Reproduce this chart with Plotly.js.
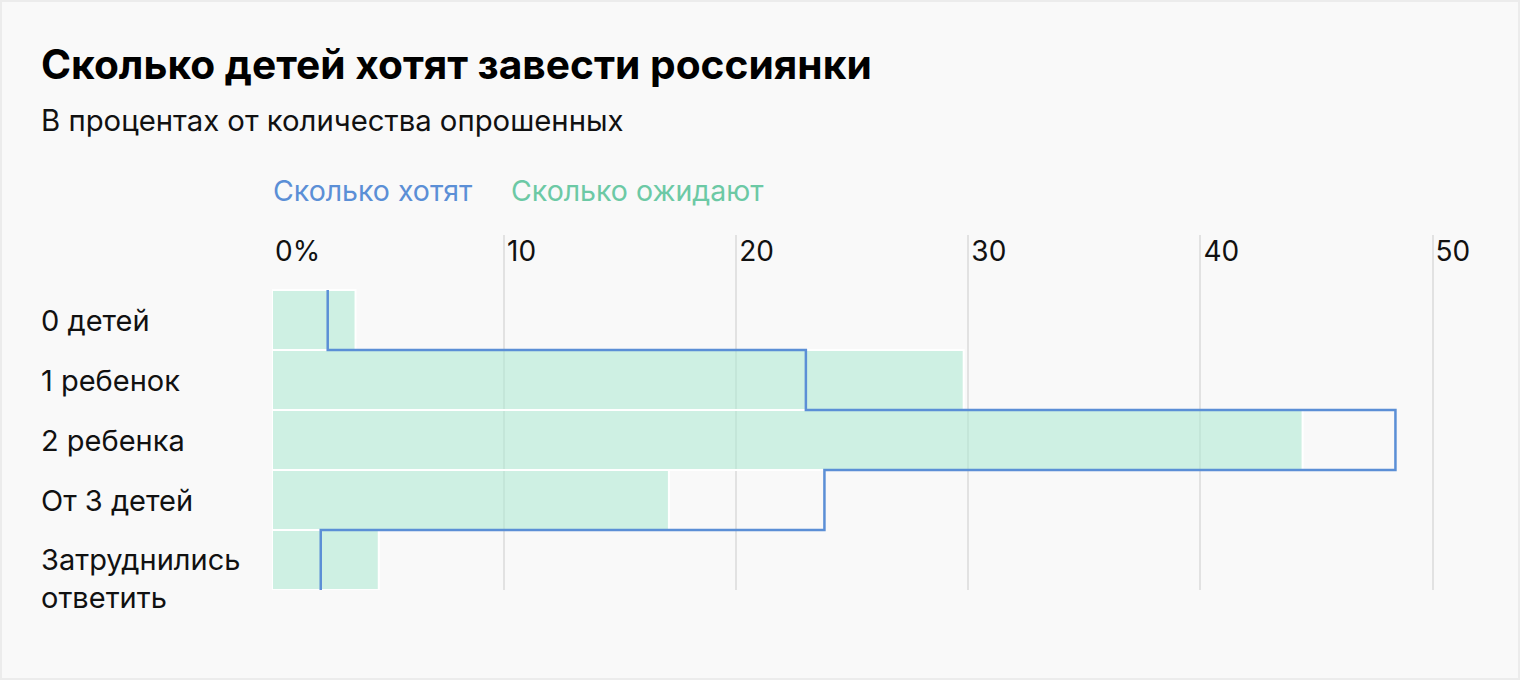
<!DOCTYPE html>
<html>
<head>
<meta charset="utf-8">
<script src="https://cdn.plot.ly/plotly-3.0.1.min.js"></script>
<style>
html,body{margin:0;padding:0;background:#f9f9f9;}
#wrap{width:1520px;height:680px;box-sizing:border-box;border:2px solid #ececec;background:#f9f9f9;}
#chart{width:1516px;height:676px;}
</style>
</head>
<body>
<div id="wrap"><div id="chart"></div></div>
<script>
const titleText = "Сколько детей хотят завести россиянки";
const subtitleText = "В процентах от количества опрошенных";
const categories = ["0 детей", "1 ребенок", "2 ребенка", "От 3 детей", "Затруднились<br>ответить"];
const wantName = "Сколько хотят";
const expectName = "Сколько ожидают";
const wantValues = [2.4, 23.0, 48.4, 23.8, 2.1];
const expectValues = [3.6, 29.8, 44.4, 17.1, 4.6];
const tickVals = [0, 10, 20, 30, 40, 50];
const tickText = ["0%", "10", "20", "30", "40", "50"];

const BLUE = "#5b8fd6";
const GREEN = "#6cc9a5";
const FONT = "Inter, 'Noto Sans', sans-serif";
const TXT = 29;

const idx = categories.map((c, i) => i);

// step line: vertical segment per category spanning its band
const stepX = [], stepY = [];
wantValues.forEach((v, i) => { stepX.push(v, v); stepY.push(i - 0.5, i + 0.5); });

const traces = [
  {
    type: "bar", orientation: "h", name: expectName,
    y: idx, x: expectValues, width: 1,
    marker: {color: "rgba(176,234,211,0.6)", line: {color: "#ffffff", width: 2}},
    hoverinfo: "x"
  },
  {
    type: "scatter", mode: "lines", name: wantName,
    x: stepX, y: stepY,
    line: {color: BLUE, width: 2.5},
    hoverinfo: "x"
  }
];

const annotations = [];
annotations.push({
  text: subtitleText, xref: "paper", yref: "paper", x: 0, xshift: -233,
  y: 1, yshift: 233 - 120 + 2, xanchor: "left", yanchor: "middle", showarrow: false,
  font: {family: FONT, size: 29.3, color: "#111"}
});
annotations.push({
  text: wantName, xref: "paper", yref: "paper", x: 0, xshift: -1,
  y: 1, yshift: 233 - 190 + 2, xanchor: "left", yanchor: "middle", showarrow: false,
  font: {family: FONT, size: 28.5, color: BLUE}
});
annotations.push({
  text: expectName, xref: "paper", yref: "paper", x: 0, xshift: 237,
  y: 1, yshift: 233 - 190 + 2, xanchor: "left", yanchor: "middle", showarrow: false,
  font: {family: FONT, size: 28.5, color: GREEN}
});
categories.forEach((c, i) => {
  const lines = c.split("<br>").length;
  annotations.push({
    text: c, xref: "paper", yref: "y", x: 0, xshift: -233, y: i,
    yshift: -(lines - 1) * TXT * 1.3 / 2,
    xanchor: "left", yanchor: "middle", align: "left", showarrow: false,
    font: {family: FONT, size: TXT, color: "#111"}
  });
});

const layout = {
  width: 1516, height: 676,
  paper_bgcolor: "#f9f9f9", plot_bgcolor: "#f9f9f9",
  margin: {l: 270, r: 38.6, t: 233, b: 88},
  showlegend: false,
  title: {
    text: "<b>" + titleText + "</b>", xref: "container", yref: "container",
    x: 39 / 1516, xanchor: "left", y: 1 - 63 / 676, yanchor: "middle",
    font: {family: FONT, size: 40.7, color: "#000"}
  },
  xaxis: {
    range: [0, 52], side: "top", tickvals: tickVals, ticktext: tickText,
    ticks: "", ticklabelposition: "inside right", ticklabelshift: 3,
    showgrid: true, gridcolor: "#e2e2e2", gridwidth: 2,
    zeroline: true, zerolinecolor: "#f9f9f9", zerolinewidth: 2,
    showline: false, fixedrange: true,
    tickfont: {family: FONT, size: 28, color: "#111"}
  },
  yaxis: {
    range: [4.5, -1.4167], showticklabels: false, showgrid: false,
    zeroline: false, showline: false, ticks: "", fixedrange: true
  },
  annotations: annotations,
  bargap: 0
};

Plotly.newPlot("chart", traces, layout, {displayModeBar: false, staticPlot: true});
</script>
</body>
</html>
